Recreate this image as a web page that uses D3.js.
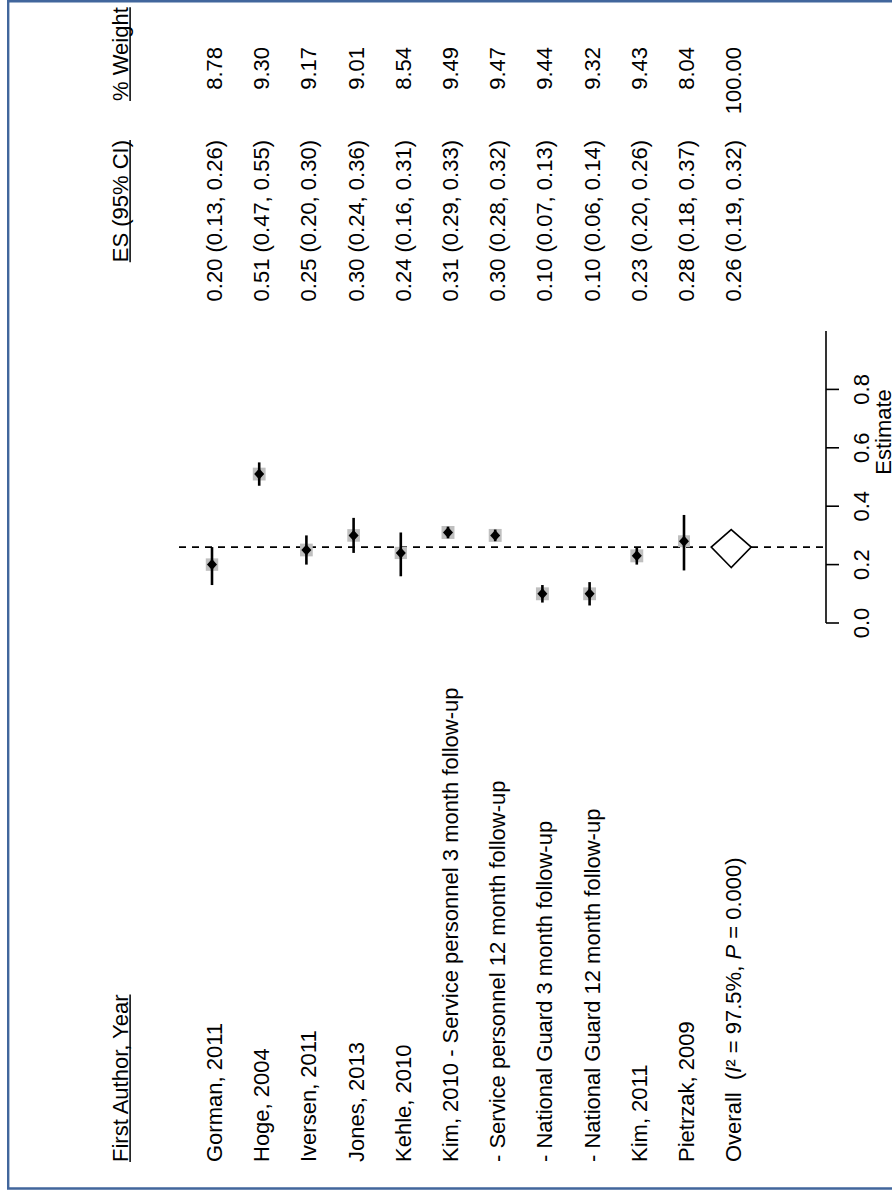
<!DOCTYPE html>
<html>
<head>
<meta charset="utf-8">
<script src="https://cdn.jsdelivr.net/npm/d3@7"></script>
<style>
  html, body { margin: 0; padding: 0; background: #fff; }
  svg { display: block; }
  text { font-family: "Liberation Sans", Arial, sans-serif; fill: #000; }
</style>
</head>
<body>
<svg id="chart" width="892" height="1193"></svg>
<script>
// Study rows of the forest plot
const studies = [
  "Gorman, 2011",
  "Hoge, 2004",
  "Iversen, 2011",
  "Jones, 2013",
  "Kehle, 2010",
  "Kim, 2010 - Service personnel 3 month follow-up",
  "- Service personnel 12 month follow-up",
  "- National Guard 3 month follow-up",
  "- National Guard 12 month follow-up",
  "Kim, 2011",
  "Pietrzak, 2009"
];
const es     = [0.20, 0.51, 0.25, 0.30, 0.24, 0.31, 0.30, 0.10, 0.10, 0.23, 0.28];
const ciLow  = [0.13, 0.47, 0.20, 0.24, 0.16, 0.29, 0.28, 0.07, 0.06, 0.20, 0.18];
const ciHigh = [0.26, 0.55, 0.30, 0.36, 0.31, 0.33, 0.32, 0.13, 0.14, 0.26, 0.37];
const weights = [8.78, 9.30, 9.17, 9.01, 8.54, 9.49, 9.47, 9.44, 9.32, 9.43, 8.04];

// Pooled estimate
const overall = { es: 0.26, low: 0.19, high: 0.32, weight: 100.00 };
const heterogeneity = { i2: "97.5%", p: "0.000" };

const headers = { study: "First Author, Year", es: "ES (95% CI)", weight: "% Weight" };
const axisTicks = [0.0, 0.2, 0.4, 0.6, 0.8];
const axisTitle = "Estimate";

const W = 892, H = 1193;
const svg = d3.select("#chart");

// The whole plot is laid out upright, then turned a quarter turn counter-clockwise.
const g = svg.append("g").attr("transform", `translate(0,${H}) rotate(-90)`);

const FS = 22;
const x = d3.scaleLinear().domain([0, 1]).range([570, 862]);
const y = d3.scaleLinear().domain([0, 1]).range([212, 259.2]);

const fmt = d3.format(".2f");
const labelX = 31, esRight = 1053, wRight = 1146, wHeadX = 1092;

// Headers with underlines
function underlined(txt, xPos, anchor) {
  const t = g.append("text")
    .attr("x", xPos).attr("y", y(-2) + 10)
    .attr("font-size", FS).attr("text-anchor", anchor).text(txt);
  const len = t.node().getComputedTextLength();
  const x0 = anchor === "end" ? xPos - len : xPos;
  g.append("line")
    .attr("x1", x0).attr("x2", x0 + len)
    .attr("y1", y(-2) + 12.5).attr("y2", y(-2) + 12.5)
    .attr("stroke", "#000").attr("stroke-width", 1.5);
}
underlined(headers.study, labelX, "start");
underlined(headers.es, esRight, "end");
underlined(headers.weight, wHeadX, "start");

// Reference line at the pooled estimate
g.append("line")
  .attr("x1", x(overall.es)).attr("x2", x(overall.es))
  .attr("y1", 179).attr("y2", 826)
  .attr("stroke", "#000").attr("stroke-width", 1.6)
  .attr("stroke-dasharray", "7,6");

// Study rows
const rows = g.selectAll("g.row").data(studies.map((s, i) => ({
  label: s, es: es[i], lo: ciLow[i], hi: ciHigh[i], w: weights[i], i
}))).join("g").attr("class", "row");

rows.append("text")
  .attr("x", labelX).attr("y", d => y(d.i) + 10)
  .attr("font-size", FS).text(d => d.label);

rows.append("text")
  .attr("x", esRight).attr("y", d => y(d.i) + 10)
  .attr("font-size", FS).attr("text-anchor", "end")
  .text(d => `${fmt(d.es)} (${fmt(d.lo)}, ${fmt(d.hi)})`);

rows.append("text")
  .attr("x", wRight).attr("y", d => y(d.i) + 10)
  .attr("font-size", FS).attr("text-anchor", "end")
  .text(d => fmt(d.w));

// Weight boxes
const boxSide = w => 4.2 * Math.sqrt(w);
rows.append("rect")
  .attr("x", d => x(d.es) - boxSide(d.w) / 2)
  .attr("y", d => y(d.i) - boxSide(d.w) / 2)
  .attr("width", d => boxSide(d.w)).attr("height", d => boxSide(d.w))
  .attr("fill", "#bfbfbf");

// Confidence intervals
rows.append("line")
  .attr("x1", d => x(d.lo)).attr("x2", d => x(d.hi))
  .attr("y1", d => y(d.i)).attr("y2", d => y(d.i))
  .attr("stroke", "#000").attr("stroke-width", 2.6);

// Point estimates
rows.append("path")
  .attr("d", d => {
    const cx = x(d.es), cy = y(d.i), rx = 5.5, ry = 5;
    return `M${cx - rx},${cy}L${cx},${cy - ry}L${cx + rx},${cy}L${cx},${cy + ry}Z`;
  })
  .attr("fill", "#000");

// Pooled row
const oi = studies.length;
const oy = y(oi);
const ot = g.append("text")
  .attr("x", labelX).attr("y", oy + 10).attr("font-size", FS)
  .attr("xml:space", "preserve");
ot.append("tspan").text("Overall  (");
ot.append("tspan").attr("font-style", "italic").text("I");
ot.append("tspan").text("\u00B2 = " + heterogeneity.i2 + ", ");
ot.append("tspan").attr("font-style", "italic").text("P");
ot.append("tspan").text(" = " + heterogeneity.p + ")");

g.append("text")
  .attr("x", esRight).attr("y", oy + 10).attr("font-size", FS).attr("text-anchor", "end")
  .text(`${fmt(overall.es)} (${fmt(overall.low)}, ${fmt(overall.high)})`);
g.append("text")
  .attr("x", wRight).attr("y", oy + 10).attr("font-size", FS).attr("text-anchor", "end")
  .text(fmt(overall.weight));

g.append("path")
  .attr("d", `M${x(overall.low)},${oy}L${x(overall.es)},${oy - 20}L${x(overall.high)},${oy}L${x(overall.es)},${oy + 20}Z`)
  .attr("fill", "#fff").attr("stroke", "#000").attr("stroke-width", 1.6);

// Estimate axis
const axisY = 826;
const axisG = g.append("g").attr("transform", `translate(0,${axisY})`);
axisG.append("line")
  .attr("x1", x(0)).attr("x2", x(1))
  .attr("stroke", "#000").attr("stroke-width", 1.6);
axisG.selectAll("line.tick").data(axisTicks).join("line")
  .attr("class", "tick")
  .attr("x1", d => x(d)).attr("x2", d => x(d))
  .attr("y1", 0).attr("y2", 13)
  .attr("stroke", "#000").attr("stroke-width", 1.6);
axisG.selectAll("text.tick").data(axisTicks).join("text")
  .attr("class", "tick")
  .attr("x", d => x(d)).attr("y", 43)
  .attr("font-size", FS).attr("text-anchor", "middle")
  .text(d => d3.format(".1f")(d));
axisG.append("text")
  .attr("x", 761).attr("y", 65)
  .attr("font-size", FS).attr("text-anchor", "middle")
  .text(axisTitle);

// Frame
svg.append("path")
  .attr("d", `M${W + 5},1.2 H8.2 V1188.5 H${W + 5}`)
  .attr("fill", "none").attr("stroke", "#41669c").attr("stroke-width", 2.4);
</script>
</body>
</html>
